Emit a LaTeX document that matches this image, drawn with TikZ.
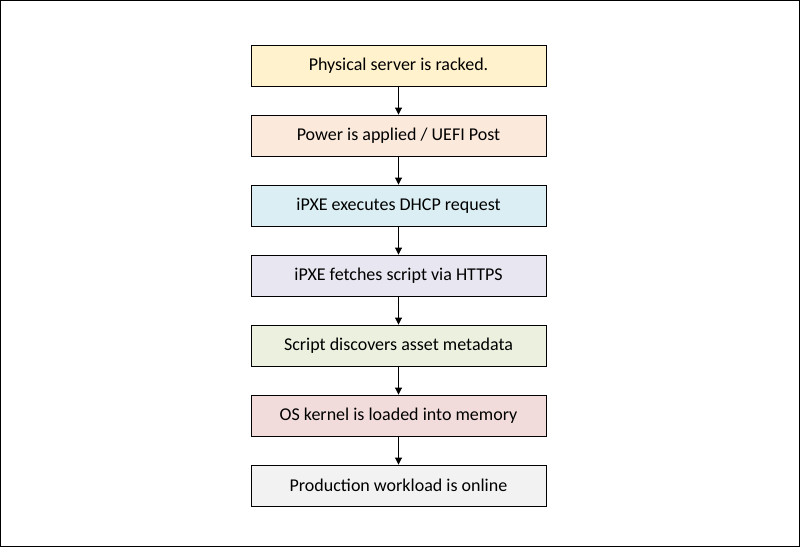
\documentclass[tikz,border=0pt]{standalone}
\usepackage{fontspec}
\setmainfont{Carlito}
\usetikzlibrary{arrows.meta}
\begin{document}
\begin{tikzpicture}[x=1pt,y=-1pt,
  box/.style={draw=black,line width=0.9pt,minimum width=295pt,minimum height=41pt,inner sep=0pt,font=\fontsize{18}{21}\selectfont},
  arr/.style={-{Triangle[length=7pt,width=7pt]},line width=0.9pt}]
\draw[line width=1pt,fill=white] (0.5,0.5) rectangle (799.5,546.5);
\useasboundingbox (0,0) rectangle (800,547);
\definecolor{c1}{HTML}{FFF2CC}
\definecolor{c2}{HTML}{FBE9DB}
\definecolor{c3}{HTML}{DAEEF3}
\definecolor{c4}{HTML}{E8E6F0}
\definecolor{c5}{HTML}{EBF1DE}
\definecolor{c6}{HTML}{F2DCDB}
\definecolor{c7}{HTML}{F2F2F2}
\node[box,fill=c1] (a) at (398.5,65.5) {Physical server is racked.};
\node[box,fill=c2] (b) at (398.5,135.5) {Power is applied / UEFI Post};
\node[box,fill=c3] (c) at (398.5,205.5) {iPXE executes DHCP request};
\node[box,fill=c4] (d) at (398.5,275.5) {iPXE fetches script via HTTPS};
\node[box,fill=c5] (e) at (398.5,345.5) {Script discovers asset metadata};
\node[box,fill=c6] (f) at (398.5,415.5) {OS kernel is loaded into memory};
\node[box,fill=c7] (g) at (398.5,485.5) {Production workload is online};
\foreach \u/\v in {a/b,b/c,c/d,d/e,e/f,f/g}\draw[arr] (\u) -- (\v);
\end{tikzpicture}
\end{document}
